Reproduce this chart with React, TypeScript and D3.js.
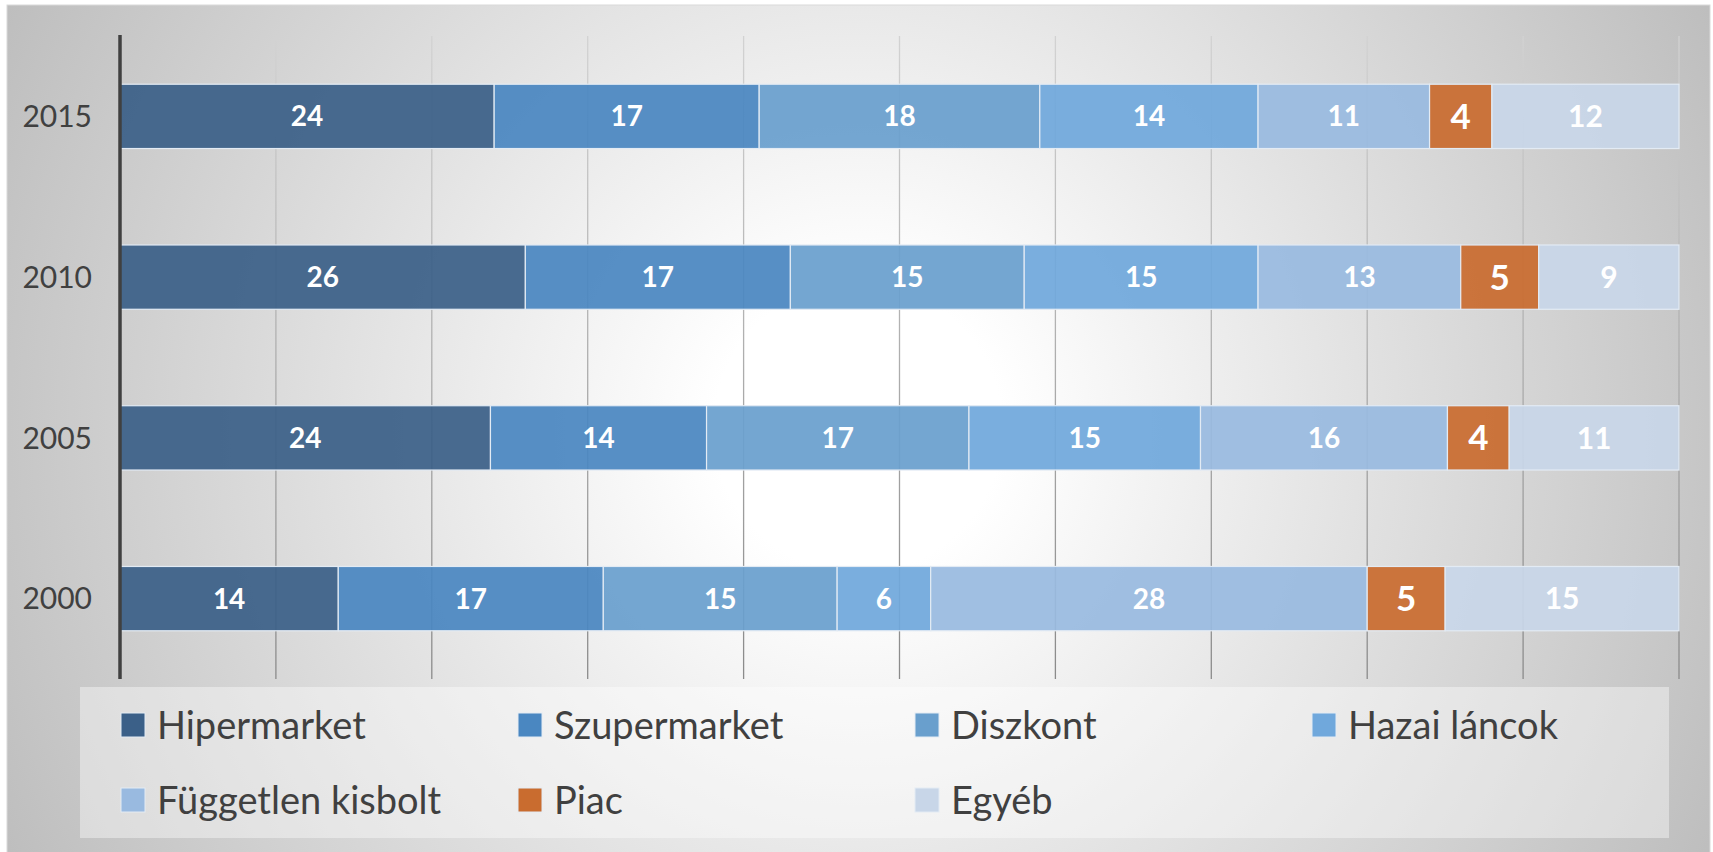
import React from 'react';
import * as d3 from 'd3';

const years = ['2015', '2010', '2005', '2000'];
const seriesNames = ['Hipermarket', 'Szupermarket', 'Diszkont', 'Hazai láncok', 'Független kisbolt', 'Piac', 'Egyéb'];
const seriesColors = ['#3b6088', '#4a87c1', '#699fcd', '#70a8dc', '#99bae0', '#c96c2f', '#c8d6e8'];

// values per year, same order as seriesNames
const hipermarket = [24, 26, 24, 14];
const szupermarket = [17, 17, 14, 17];
const diszkont = [18, 15, 17, 15];
const hazaiLancok = [14, 15, 15, 6];
const fuggetlen = [11, 13, 16, 28];
const piac = [4, 5, 4, 5];
const egyeb = [12, 9, 11, 15];

const W = 1713;
const H = 852;

export default function App() {
    const cols = [hipermarket, szupermarket, diszkont, hazaiLancok, fuggetlen, piac, egyeb];
    const rows = years.map((y, i) => {
        const r: any = {year: y};
        seriesNames.forEach((s, k) => { r[s] = cols[k][i]; });
        return r;
    });
    const stacked = d3.stack().keys(seriesNames).offset(d3.stackOffsetExpand)(rows);

    const x = d3.scaleLinear().domain([0, 1]).range([120, 1679]);
    const y = d3.scaleBand().domain(years).range([36, 679]).paddingInner(0.6).paddingOuter(0.3);
    const ticks = d3.range(1, 11).map(d => d / 10);

    const labelSize = (k) => k === 5 ? 35 : k === 6 ? 30 : 28;

    return (
        <svg width={W} height={H} style={{position: 'absolute', left: 0, top: 0}} fontFamily="Lato, 'Open Sans', sans-serif">
            <defs>
                <radialGradient id="bg" gradientUnits="userSpaceOnUse" cx={858} cy={428} r={960}>
                    <stop offset="0" stopColor="#ffffff"/>
                    <stop offset="0.15" stopColor="#ffffff"/>
                    <stop offset="1" stopColor="#bdbdbd"/>
                </radialGradient>
                <linearGradient id="grid" gradientUnits="userSpaceOnUse" x1={0} y1={36} x2={0} y2={679}>
                    <stop offset="0" stopColor="#d2d2d2"/>
                    <stop offset="1" stopColor="#8a8a8a"/>
                </linearGradient>
            </defs>
            <rect x={7} y={5} width={1703} height={850} fill="url(#bg)" stroke="#d9d9d9" strokeWidth={1}/>

            {ticks.map(t => (
                <line key={t} x1={x(t)} x2={x(t)} y1={36} y2={679} stroke="url(#grid)" strokeWidth={1.3}/>
            ))}

            {stacked.map((layer, k) => (
                <g key={layer.key}>
                    {layer.map((d, i) => {
                        const x0 = x(d[0]);
                        const x1 = x(d[1]);
                        const yy = y(d.data.year);
                        return (
                            <g key={i}>
                                <rect x={x0} y={yy} width={x1 - x0} height={y.bandwidth()}
                                      fill={seriesColors[k]} fillOpacity={0.93}
                                      stroke="#e3ebf4" strokeWidth={1.2}/>
                                <text x={(x0 + x1) / 2} y={yy + y.bandwidth() / 2} dy="0.36em"
                                      textAnchor="middle" fill="#ffffff" fontWeight="bold"
                                      fontSize={labelSize(k)}>
                                    {cols[k][i]}
                                </text>
                            </g>
                        );
                    })}
                </g>
            ))}

            <line x1={120} x2={120} y1={35} y2={679} stroke="#404040" strokeWidth={3.5}/>

            {years.map(yr => (
                <text key={yr} x={92} y={y(yr) + y.bandwidth() / 2} dy="0.36em" textAnchor="end"
                      fill="#404040" fontSize={30}>{yr}</text>
            ))}

            <rect x={80} y={687} width={1589} height={151} fill="#ffffff" fillOpacity={0.4}/>
            {seriesNames.map((s, k) => {
                const col = k % 4;
                const row = Math.floor(k / 4);
                const mx = 121 + col * 397;
                const cy = 725 + row * 75;
                return (
                    <g key={s}>
                        <rect x={mx} y={cy - 12} width={24} height={24} fill={seriesColors[k]} stroke="#e3ebf4" strokeWidth={1}/>
                        <text x={mx + 36} y={cy} dy="0.36em" fill="#404040" fontSize={38}>{s}</text>
                    </g>
                );
            })}
        </svg>
    );
}
